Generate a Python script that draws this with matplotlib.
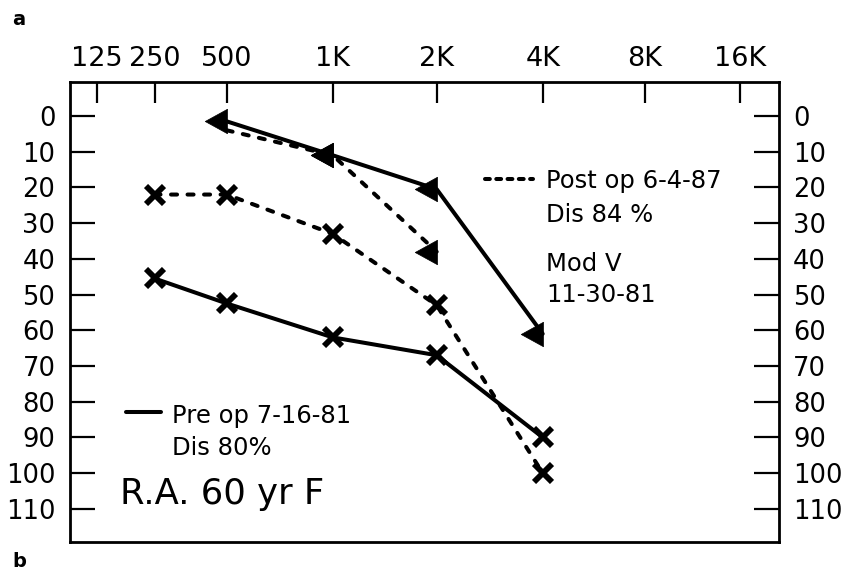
import numpy as np
import matplotlib
matplotlib.use("Agg")
import matplotlib.pyplot as plt
from matplotlib.path import Path

plt.rcParams["font.family"] = ["DejaVu Sans"]

# ---- audiogram data -------------------------------------------------------
freq_ticks = [125, 250, 500, 1000, 2000, 4000, 8000, 16000]
freq_labels = ["125", "250", "500", "1K", "2K", "4K", "8K", "16K"]
db_ticks = list(range(0, 111, 10))

air_freqs = [250, 500, 1000, 2000, 4000]
pre_air = [45.5, 52.5, 62, 67, 90]        # Pre op 7-16-81, air conduction (x)
post_air = [22, 22, 33, 53, 100]          # Post op 6-4-87, air conduction (x)

bone_freqs_pre = [500, 1000, 2000, 4000]
pre_bone = [1.5, 11, 20.5, 61]            # Pre op, bone conduction (<)
bone_freqs_post = [500, 1000, 2000]
post_bone = [4, 11, 38]                   # Post op, bone conduction (<)

# ---- figure / axes layout (pixels of an 846x573 canvas) -------------------
W, H = 846, 573
AX_L, AX_R, AX_T, AX_B = 70, 778.5, 81.7, 542
fig = plt.figure(figsize=(W / 100, H / 100), dpi=100)
ax = fig.add_axes([AX_L / W, 1 - AX_B / H, (AX_R - AX_L) / W, (AX_B - AX_T) / H])

# Audiogram frequency scale: octave spacing as printed on the chart form
axis_pos = np.array([97, 154.5, 226.7, 332.7, 436.7, 542.7, 645, 740], float)
log_t = np.log2(freq_ticks)
s_lo = (axis_pos[1] - axis_pos[0]) / (log_t[1] - log_t[0])
s_hi = (axis_pos[-1] - axis_pos[-2]) / (log_t[-1] - log_t[-2])


def fwd(f):
    l = np.log2(np.maximum(np.asarray(f, float), 1e-6))
    p = np.interp(l, log_t, axis_pos)
    p = np.where(l < log_t[0], axis_pos[0] + (l - log_t[0]) * s_lo, p)
    p = np.where(l > log_t[-1], axis_pos[-1] + (l - log_t[-1]) * s_hi, p)
    return p


def inv(p):
    p = np.asarray(p, float)
    l = np.interp(p, axis_pos, log_t)
    l = np.where(p < axis_pos[0], log_t[0] + (p - axis_pos[0]) / s_lo, l)
    l = np.where(p > axis_pos[-1], log_t[-1] + (p - axis_pos[-1]) / s_hi, l)
    return 2.0 ** l


ax.set_xscale("function", functions=(fwd, inv))
ax.set_xlim(float(inv(AX_L)), float(inv(AX_R)))
ax.set_ylim(119.3, -9.6)

# ---- styles ---------------------------------------------------------------
LW = 2.9
dash = (0, (1.5, 2.6))
bone_marker = Path([(0, 0.55), (0, -0.55), (-1, 0), (0, 0.55)],
                   [Path.MOVETO, Path.LINETO, Path.LINETO, Path.CLOSEPOLY])
xkw = dict(marker="x", ms=13, mew=4.2, color="black")
tkw = dict(marker=bone_marker, ms=32, color="black", mec="black", mew=0.5)

# air conduction
ax.plot(air_freqs, pre_air, lw=LW, solid_capstyle="round", **xkw)
ax.plot(air_freqs, post_air, lw=LW, linestyle=dash, dash_capstyle="round", **xkw)
# bone conduction
ax.plot(bone_freqs_pre, pre_bone, lw=LW, solid_capstyle="round", **tkw)
ax.plot(bone_freqs_post, post_bone, lw=LW, linestyle=dash, dash_capstyle="round",
        markevery=[1, 2], **tkw)

# ---- axes styling ---------------------------------------------------------
for sp in ax.spines.values():
    sp.set_linewidth(2.0)

ax.xaxis.tick_top()
ax.set_xticks(freq_ticks)
ax.set_xticklabels(freq_labels)
ax.xaxis.set_minor_locator(matplotlib.ticker.NullLocator())
ax.tick_params(axis="x", which="major", direction="in", length=15, width=1.6,
               pad=7, labelsize=19.5, top=True, bottom=False,
               labeltop=True, labelbottom=False)

ax.set_yticks(db_ticks)
ax.set_yticklabels([str(v) for v in db_ticks])
ax.tick_params(axis="y", which="major", direction="in", length=18, width=1.6,
               pad=10.5, labelsize=18.5, left=True, right=True,
               labelleft=True, labelright=True)


def axf(px, py):
    return (px - AX_L) / (AX_R - AX_L), (AX_B - py) / (AX_B - AX_T)


# ---- key and annotations --------------------------------------------------
x0, y0 = axf(485, 179)
x1, _ = axf(533, 179)
ax.plot([x0, x1], [y0, y0], transform=ax.transAxes, color="black", lw=LW,
        linestyle=(0, (1.2, 1.6)), dash_capstyle="round")
x0, y0 = axf(126, 412)
x1, _ = axf(161, 412)
ax.plot([x0, x1], [y0, y0], transform=ax.transAxes, color="black", lw=LW,
        solid_capstyle="round")

txt = [
    (546, 188, "Post op 6-4-87", 17.5),
    (546, 222, "Dis 84 %", 17.5),
    (546, 271, "Mod \u2164", 17.5),
    (546, 302, "11-30-81", 17.5),
    (172, 423, "Pre op 7-16-81", 17.5),
    (172, 455, "Dis 80%", 17.5),
    (120, 504, "R.A. 60 yr F", 25.5),
]
for px, py, s, fs in txt:
    tx, ty = axf(px, py)
    ax.text(tx, ty, s, transform=ax.transAxes, fontsize=fs, ha="left",
            va="baseline", color="black")

fig.text(12 / W, 1 - 25 / H, "a", fontsize=14, fontweight="bold", va="baseline")
fig.text(12 / W, 1 - 567 / H, "b", fontsize=14, fontweight="bold", va="baseline")

fig.savefig("out.png", dpi=100)
